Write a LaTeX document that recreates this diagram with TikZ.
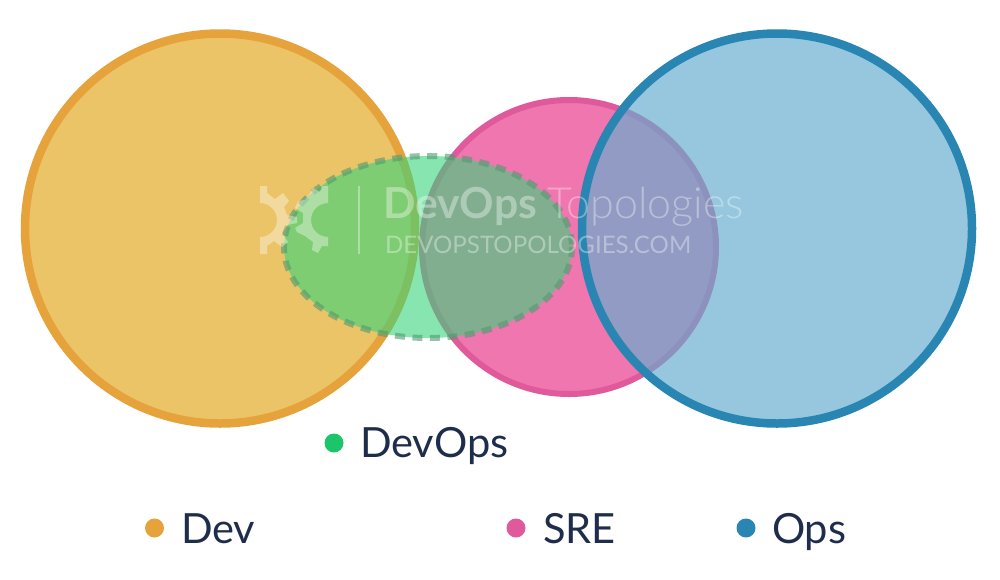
\documentclass[tikz,border=0pt]{standalone}
\usepackage{fontspec}
\setmainfont{Lato}
\newfontfamily\latolight{Lato Light}
\definecolor{inkc}{HTML}{1F2D4D}
\definecolor{devfill}{HTML}{EBC467}
\definecolor{devline}{HTML}{E6A33C}
\definecolor{srefill}{HTML}{EF76AE}
\definecolor{sreline}{HTML}{E05A9B}
\definecolor{opsfill}{HTML}{65ADCE}
\definecolor{opsline}{HTML}{2986B2}
\definecolor{dofill}{HTML}{37D47B}
\definecolor{doline}{HTML}{4F9A70}
\definecolor{dodot}{HTML}{1CC46A}
\tikzset{
  venn/.style={circle,inner sep=0pt,outer sep=0pt,minimum size=#1},
  dot/.style={circle,inner sep=0pt,outer sep=0pt,minimum size=19pt},
  legend/.style={anchor=base west,inner sep=0pt,outer sep=0pt,text=inkc,font=\fontsize{41.6}{42}\selectfont},
  wmark/.style={anchor=base west,inner sep=0pt,outer sep=0pt,text=white,text opacity=.36},
  logopart/.style={fill=white,fill opacity=.36,draw=none}
}
\begin{document}
\begin{tikzpicture}[x=1pt,y=-1pt]
\useasboundingbox (0,0) rectangle (1000,579);
\node[venn=390pt,draw=devline,line width=8.5pt,fill=devfill] (dev) at (220,228.5) {};
\node[venn=294pt,draw=sreline,line width=6pt,fill=srefill] (sre) at (569,247) {};
\fill[dofill,fill opacity=.6] (428,247) ellipse [x radius=144,y radius=91];
\draw[doline,draw opacity=.6,line width=6pt,dash pattern=on 10pt off 7.5pt] (428,247) ellipse [x radius=144,y radius=91];
\node[venn=390pt,fill=opsfill,fill opacity=.68] (ops) at (777,228.5) {};
\node[venn=390pt,draw=opsline,line width=8.5pt] (opsring) at (777,228.5) {};
% logo
\fill[logopart] (260,186) -- (267,186) -- (267,193) -- (275,199) -- (283,193) -- (289,201) -- (284,207) -- (287,215) -- (297,217) -- (297,223) -- (287,225) -- (282,233) -- (288,242) -- (282,247) -- (274,241) -- (267,246) -- (267,254) -- (260,254) -- (260,237) arc[start angle=90,end angle=-90,radius=17] -- cycle;
\fill[logopart] (328,186) -- (328,203) arc[start angle=-90,end angle=-270,radius=17] -- (328,246) -- (322,246) -- (318,253) -- (312,250) -- (313,242) -- (305,236) -- (297,232) -- (295,228) -- (303,223) -- (303,213) -- (295,208) -- (298,201) -- (305,200) -- (310,193) -- (313,188) -- (320,192) -- (322,186) -- cycle;
\fill[logopart] (358,186) rectangle (359.5,254);
\node[wmark,font=\fontsize{42.7}{43}\selectfont\bfseries] (wm1) at (383,218) {DevOps};
\node[wmark,font=\fontsize{43}{43}\latolight] (wm2) at (547,218) {Topologies};
\node[wmark,font=\fontsize{24.1}{25}\selectfont] (wm3) at (385,253) {DEVOPSTOPOLOGIES.COM};
% legend
\node[dot,fill=dodot] (d1) at (334,443) {};
\node[legend] (t1) at (360,457) {DevOps};
\node[dot,fill=devline] (d2) at (154.5,528) {};
\node[legend] (t2) at (181,543) {Dev};
\node[dot,fill=sreline] (d3) at (516,528) {};
\node[legend] (t3) at (543,543) {SRE};
\node[dot,fill=opsline] (d4) at (746,528) {};
\node[legend] (t4) at (772,543) {Ops};
\end{tikzpicture}
\end{document}
